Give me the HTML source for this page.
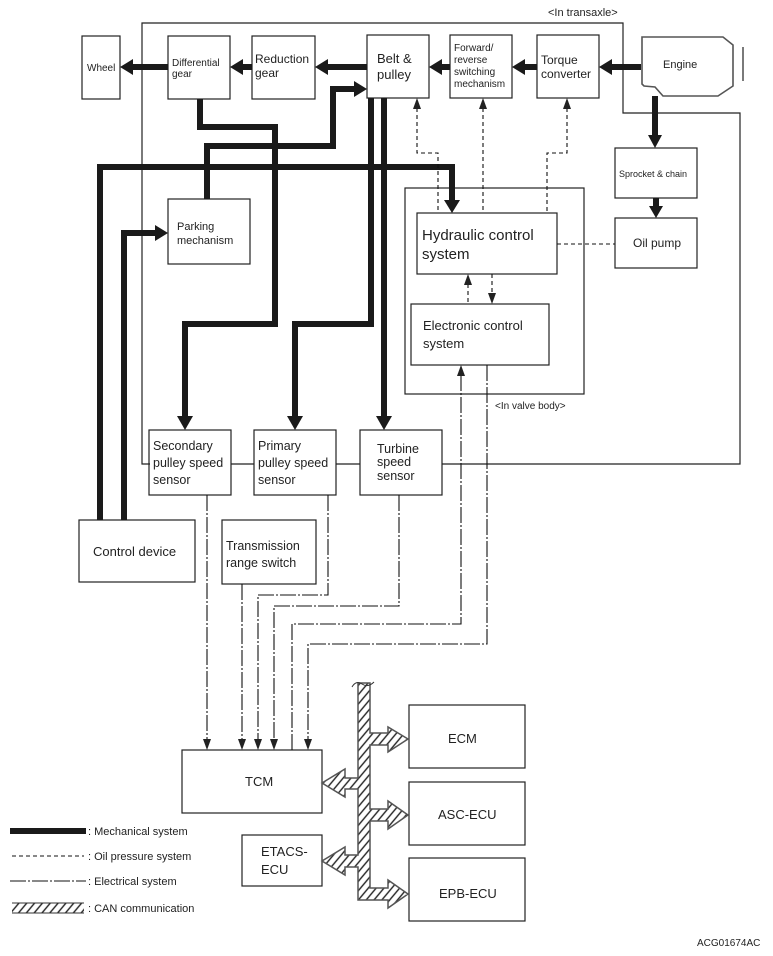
<!DOCTYPE html>
<html><head><meta charset="utf-8"><style>
html,body{margin:0;padding:0;background:#fff}
svg{display:block}
text{font-family:"Liberation Sans",Arial,sans-serif;fill:#222}
</style></head><body>
<svg width="773" height="956" viewBox="0 0 773 956" xmlns="http://www.w3.org/2000/svg">
<defs>
<pattern id="h" width="6" height="6" patternUnits="userSpaceOnUse" patternTransform="rotate(40)">
<rect width="6" height="6" fill="#fff"/><line x1="1" y1="0" x2="1" y2="6" stroke="#222" stroke-width="1.4"/>
</pattern>
</defs>
<g fill="none" stroke="#222" stroke-width="1.2">
<polyline points="150,464 142,464 142,23 623,23 623,113 740,113 740,464 442,464"/>
<line x1="231" y1="464" x2="254" y2="464"/>
<line x1="336" y1="464" x2="360" y2="464"/>
<rect x="82" y="36" width="38" height="63"/>
<rect x="168" y="36" width="62" height="63"/>
<rect x="252" y="36" width="63" height="63"/>
<rect x="367" y="35" width="62" height="63"/>
<rect x="450" y="35" width="62" height="63"/>
<rect x="537" y="35" width="62" height="63"/>
<path d="M642,37 L723,37 L733,45 L733,86 L718,96 L663,96 L655,87 L644,86 L642,84 Z" stroke="#555" stroke-width="1.6"/>
<line x1="743" y1="47" x2="743" y2="81"/>
<rect x="615" y="148" width="82" height="50"/>
<rect x="615" y="218" width="82" height="50"/>
<rect x="405" y="188" width="179" height="206"/>
<rect x="417" y="213" width="140" height="61"/>
<rect x="411" y="304" width="138" height="61"/>
<rect x="168" y="199" width="82" height="65"/>
<rect x="149" y="430" width="82" height="65"/>
<rect x="254" y="430" width="82" height="65"/>
<rect x="360" y="430" width="82" height="65"/>
<rect x="79" y="520" width="116" height="62"/>
<rect x="222" y="520" width="94" height="64"/>
<rect x="182" y="750" width="140" height="63"/>
<rect x="409" y="705" width="116" height="63"/>
<rect x="409" y="782" width="116" height="63"/>
<rect x="409" y="858" width="116" height="63"/>
<rect x="242" y="835" width="80" height="51"/>
</g>
<g fill="none" stroke="#1a1a1a" stroke-width="6">
<line x1="641" y1="67" x2="610" y2="67"/>
<line x1="537" y1="67" x2="523" y2="67"/>
<line x1="450" y1="67" x2="440" y2="67"/>
<line x1="367" y1="67" x2="326" y2="67"/>
<line x1="252" y1="67" x2="241" y2="67"/>
<line x1="168" y1="67" x2="131" y2="67"/>
<polyline points="200,99 200,127 275,127 275,324 185,324 185,418"/>
<polyline points="207,199 207,146 333,146 333,89 356,89"/>
<polyline points="100,520 100,167 452,167 452,201"/>
<polyline points="124,520 124,233 156,233"/>
<polyline points="371,98 371,324 295,324 295,418"/>
<line x1="384" y1="98" x2="384" y2="418"/>
<line x1="655" y1="96" x2="655" y2="136"/>
<line x1="656" y1="198" x2="656" y2="207"/>
<line x1="10" y1="831" x2="86" y2="831"/>
</g>
<g fill="#1a1a1a">
<polygon points="599,67 612,59 612,75"/>
<polygon points="512,67 525,59 525,75"/>
<polygon points="429,67 442,59 442,75"/>
<polygon points="315,67 328,59 328,75"/>
<polygon points="230,67 243,59 243,75"/>
<polygon points="120,67 133,59 133,75"/>
<polygon points="367,89 354,81 354,97"/>
<polygon points="168,233 155,225 155,241"/>
<polygon points="452,213 444,200 460,200"/>
<polygon points="185,430 177,416 193,416"/>
<polygon points="295,430 287,416 303,416"/>
<polygon points="384,430 376,416 392,416"/>
<polygon points="655,148 648,135 662,135"/>
<polygon points="656,218 649,206 663,206"/>
</g>
<g fill="none" stroke="#111" stroke-width="1.1" stroke-dasharray="4,3">
<polyline points="417,108 417,153 438,153 438,213"/>
<line x1="483" y1="108" x2="483" y2="213"/>
<polyline points="567,108 567,153 547,153 547,213"/>
<line x1="557" y1="244" x2="615" y2="244"/>
<line x1="468" y1="284" x2="468" y2="304"/>
<line x1="492" y1="274" x2="492" y2="294"/>
<line x1="12" y1="856" x2="84" y2="856"/>
</g>
<g fill="#222">
<polygon points="417,98 413,109 421,109"/>
<polygon points="483,98 479,109 487,109"/>
<polygon points="567,98 563,109 571,109"/>
<polygon points="468,274 464,285 472,285"/>
<polygon points="492,304 488,293 496,293"/>
</g>
<g fill="none" stroke="#111" stroke-width="1.1" stroke-dasharray="16,2,2,2">
<line x1="207" y1="495" x2="207" y2="740"/>
<line x1="242" y1="584" x2="242" y2="740"/>
<polyline points="328,495 328,595 258,595 258,740"/>
<polyline points="399,495 399,606 274,606 274,740"/>
<polyline points="461,375 461,624 292,624 292,750"/>
<polyline points="487,365 487,644 308,644 308,740"/>
<line x1="10" y1="881" x2="86" y2="881"/>
</g>
<g fill="#222">
<polygon points="207,750 203,739 211,739"/>
<polygon points="242,750 238,739 246,739"/>
<polygon points="258,750 254,739 262,739"/>
<polygon points="274,750 270,739 278,739"/>
<polygon points="308,750 304,739 312,739"/>
<polygon points="461,365 457,376 465,376"/>
</g>
<polygon fill="url(#h)" stroke="#555" stroke-width="1.5" points="358,683 370,683 370,733 388,733 388,727 408,739 388,752 388,745 370,745 370,809 388,809 388,801 408,815 388,829 388,821 370,821 370,888 388,888 388,880 408,894 388,908 388,900 358,900 358,867 345,867 345,875 322,861 345,847 345,855 358,855 358,789 345,789 345,797 322,783 345,769 345,778 358,778"/>
<path d="M352,687 Q356,680 362,684 Q368,688 374,682" fill="none" stroke="#333" stroke-width="1"/>
<rect x="12" y="903" width="72" height="10" fill="url(#h)" stroke="none"/>
<line x1="12" y1="903" x2="84" y2="903" stroke="#333"/>
<line x1="12" y1="913" x2="84" y2="913" stroke="#333"/>
<g font-size="11">
<text x="548" y="16">&lt;In transaxle&gt;</text>
<text x="87" y="71" font-size="10">Wheel</text>
<text x="172" y="66" font-size="10">Differential</text><text x="172" y="77" font-size="10">gear</text>
<text x="255" y="63" font-size="12">Reduction</text><text x="255" y="77" font-size="12">gear</text>
<text x="377" y="63" font-size="13">Belt &amp;</text><text x="377" y="79" font-size="13">pulley</text>
<text x="454" y="51" font-size="10">Forward/</text><text x="454" y="63" font-size="10">reverse</text><text x="454" y="75" font-size="10">switching</text><text x="454" y="87" font-size="10">mechanism</text>
<text x="541" y="64" font-size="12">Torque</text><text x="541" y="78" font-size="12">converter</text>
<text x="663" y="68" font-size="11">Engine</text>
<text x="619" y="177" font-size="9">Sprocket &amp; chain</text>
<text x="633" y="247" font-size="12">Oil pump</text>
<text x="422" y="240" font-size="15">Hydraulic control</text><text x="422" y="259" font-size="15">system</text>
<text x="423" y="330" font-size="13">Electronic control</text><text x="423" y="348" font-size="13">system</text>
<text x="495" y="409" font-size="10">&lt;In valve body&gt;</text>
<text x="177" y="230" font-size="11">Parking</text><text x="177" y="244" font-size="11">mechanism</text>
<text x="153" y="450" font-size="12.5">Secondary</text><text x="153" y="467" font-size="12.5">pulley speed</text><text x="153" y="484" font-size="12.5">sensor</text>
<text x="258" y="450" font-size="12.5">Primary</text><text x="258" y="467" font-size="12.5">pulley speed</text><text x="258" y="484" font-size="12.5">sensor</text>
<text x="377" y="453" font-size="12.5">Turbine</text><text x="377" y="466" font-size="12.5">speed</text><text x="377" y="480" font-size="12.5">sensor</text>
<text x="93" y="556" font-size="13">Control device</text>
<text x="226" y="550" font-size="12.5">Transmission</text><text x="226" y="567" font-size="12.5">range switch</text>
<text x="245" y="786" font-size="13">TCM</text>
<text x="448" y="743" font-size="13">ECM</text>
<text x="438" y="819" font-size="13">ASC-ECU</text>
<text x="439" y="898" font-size="13">EPB-ECU</text>
<text x="261" y="856" font-size="13">ETACS-</text><text x="261" y="874" font-size="13">ECU</text>
<text x="88" y="835">: Mechanical system</text>
<text x="88" y="860">: Oil pressure system</text>
<text x="88" y="885">: Electrical system</text>
<text x="88" y="912">: CAN communication</text>
<text x="697" y="946" font-size="10">ACG01674AC</text>
</g>
</svg>
</body></html>
